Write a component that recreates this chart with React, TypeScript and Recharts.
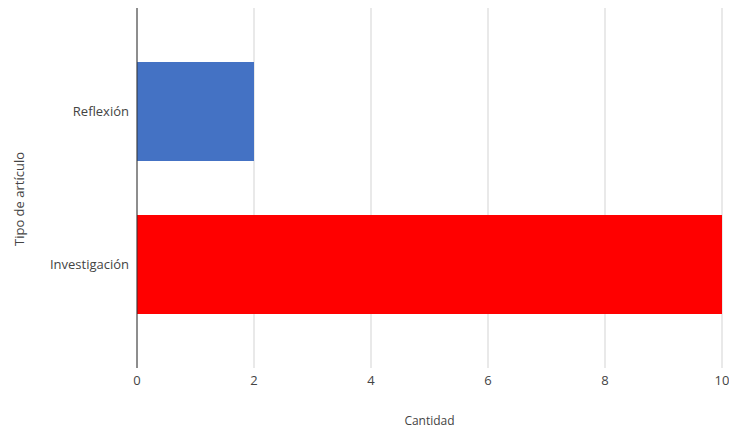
import { BarChart, Bar, XAxis, YAxis, CartesianGrid, Cell } from 'recharts'

const categories = ['Reflexión', 'Investigación']
const counts = [2, 10]
const barColors = ['#4472C4', '#FF0000']
const xTicks = [0, 2, 4, 6, 8, 10]

const data = categories.map((name, i) => ({ name, value: counts[i] }))

const font = '"Open Sans", sans-serif'

// y-axis title sits a bit below the plot centre in the reference
const YTitle = () => (
  <text
    x={19}
    y={199}
    transform="rotate(-90 19 199)"
    textAnchor="middle"
    dominantBaseline="central"
    fill="#444"
    fontSize={13}
    fontFamily={font}
  >
    Tipo de artículo
  </text>
)

export default function App() {
  return (
    <div style={{ position: 'absolute', left: 0, top: 0, background: '#fff' }}>
      <BarChart
        width={729}
        height={430}
        data={data}
        layout="vertical"
        margin={{ top: 8, right: 7, left: 0, bottom: 0 }}
        barSize={99}
      >
        <CartesianGrid horizontal={false} stroke="#d3d3d3" />
        <XAxis
          type="number"
          domain={[0, 10]}
          ticks={xTicks}
          height={62}
          axisLine={false}
          tickLine={false}
          tick={{ fill: '#444', fontSize: 13, fontFamily: font }}
          label={{ value: 'Cantidad', position: 'insideBottom', offset: 5, fill: '#444', fontSize: 12, fontFamily: font }}
        />
        <YAxis
          type="category"
          dataKey="name"
          width={137}
          padding={{ top: 27, bottom: 27 }}
          axisLine={{ stroke: '#333' }}
          tickLine={false}
          tick={{ fill: '#444', fontSize: 13, fontFamily: font }}
          label={{ content: YTitle }}
        />
        <Bar dataKey="value" isAnimationActive={false}>
          {data.map((d, i) => (
            <Cell key={d.name} fill={barColors[i]} />
          ))}
        </Bar>
      </BarChart>
    </div>
  )
}
